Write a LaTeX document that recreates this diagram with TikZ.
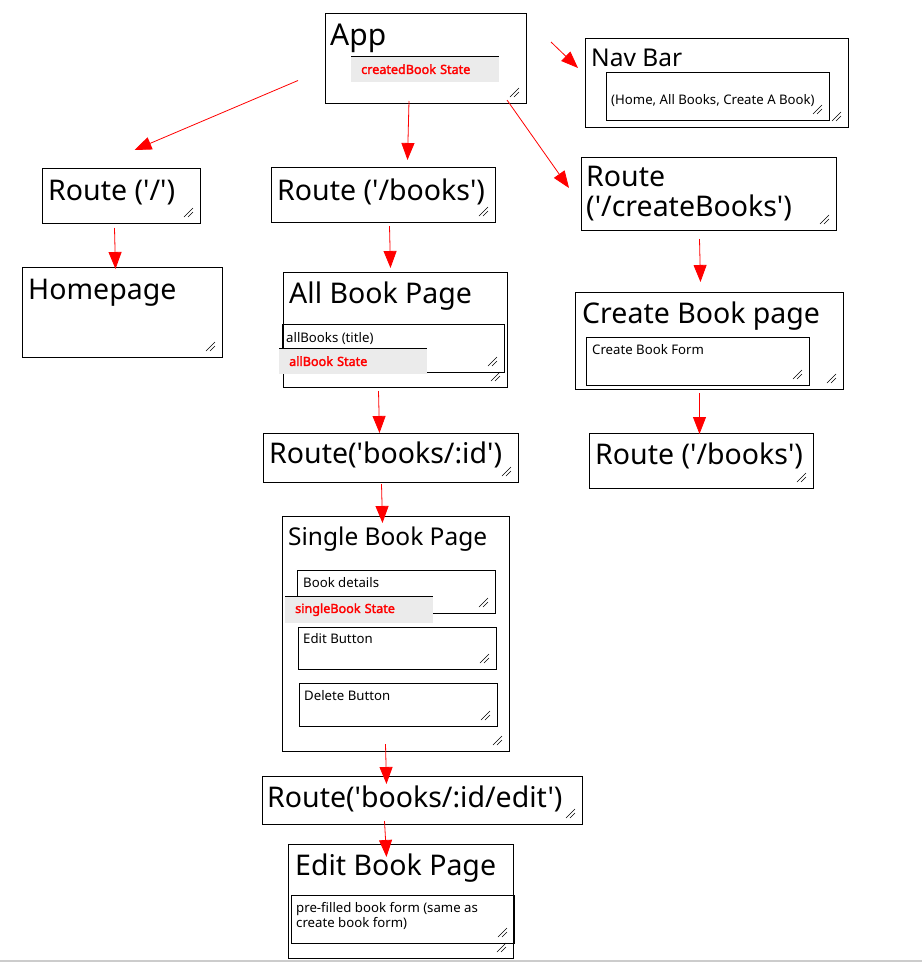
\documentclass[tikz,border=0pt]{standalone}
\usepackage{fontspec}
\setmainfont{Noto Sans}[Ligatures=TeXOff]
\newfontfamily\statefamily{Noto Sans}[FakeBold=2.2]
\usetikzlibrary{arrows.meta, calc, positioning}

\newcommand\pagefont{\fontsize{28.5}{30}\selectfont}
\newcommand\midfont{\fontsize{24.5}{26}\selectfont}
\newcommand\smallfont{\fontsize{13.2}{15}\selectfont}
\newcommand\statefont{\statefamily\fontsize{12.6}{14}\selectfont}

\tikzset{
  box/.style={draw=black, line width=1pt, anchor=north west, inner sep=0pt},
  title/.style={anchor=base west, inner sep=0pt, font=\pagefont, align=left},
  small/.style={anchor=base west, inner sep=0pt, font=\smallfont, align=left},
  state/.style={anchor=north west, fill=black!8, text=red, font=\statefont, text width=128pt, inner xsep=10pt, inner ysep=0pt, minimum height=26pt, align=left},
  flow/.style={red, line width=0.8pt, -{Triangle[length=17pt,width=13pt]}},
  grip/.style={line width=0.6pt}
}

\begin{document}
\begin{tikzpicture}[x=1pt, y=-1pt]
      \useasboundingbox (0,0) rectangle (922,962);

      \node[box, minimum width=201pt, minimum height=90pt] (app) at (325,13) {};
      \node[box, minimum width=263pt, minimum height=89pt] (nav) at (585,38) {};
      \node[box, minimum width=223pt, minimum height=48pt] (nav-in) at (606,72) {};
      \node[box, minimum width=158pt, minimum height=55pt] (home-r) at (42,168) {};
      \node[box, minimum width=224pt, minimum height=55pt] (books-r) at (271,167) {};
      \node[box, minimum width=255pt, minimum height=73pt] (create-r) at (581,157) {};
      \node[box, minimum width=200pt, minimum height=90pt] (home) at (22,267) {};
      \node[box, minimum width=224pt, minimum height=115pt] (all) at (283,272) {};
      \node[box, minimum width=222pt, minimum height=48pt] (all-in) at (282,324) {};
      \node[box, minimum width=268pt, minimum height=97pt] (create) at (575,292) {};
      \node[box, minimum width=223pt, minimum height=48pt] (create-in) at (586,337) {};
      \node[box, minimum width=224pt, minimum height=55pt] (right-r) at (589,433) {};
      \node[box, minimum width=255pt, minimum height=49pt] (id-r) at (263,433) {};
      \node[box, minimum width=227pt, minimum height=235pt] (single) at (282,516) {};
      \node[box, minimum width=198pt, minimum height=43pt] (details) at (297,570) {};
      \node[box, minimum width=198pt, minimum height=42pt] (edit-btn) at (298,627) {};
      \node[box, minimum width=198pt, minimum height=43pt] (delete-btn) at (299,683) {};
      \node[box, minimum width=320pt, minimum height=48pt] (edit-r) at (262,776) {};
      \node[box, minimum width=225pt, minimum height=114pt] (edit) at (288,844) {};
      \node[box, minimum width=223pt, minimum height=48pt] (edit-in) at (291,895) {};

      \foreach \b in {app, nav, nav-in, home-r, books-r, create-r, home, all, all-in, create, create-in, right-r, id-r, single, details, edit-btn, delete-btn, edit-r, edit, edit-in}
        \draw[grip] ($(\b.south east)+(-17,-7)$) -- ++(9,-9) ($(\b.south east)+(-13,-7)$) -- ++(5,-5);

      \node[state] (app-s) at (351,56) {createdBook State};
      \node[state] (all-s) at (279,348) {allBook State};
      \node[state, minimum height=27pt] (single-s) at (285,596) {singleBook State};
      \foreach \s in {app-s, all-s, single-s}
        \draw[line width=1pt] (\s.north west) -- (\s.north east);

      \node[title, font=\fontsize{30}{32}\selectfont] (app-t) at (330,45) {App};
      \node[title, font=\midfont] (nav-t) at (591,66) {Nav Bar};
      \node[title] (home-r-t) at (48,200) {Route ('/')};
      \node[title] (books-r-t) at (277,200) {Route ('/books')};
      \node[title] (create-r-t) at (586,216) {Route\\('/createBooks')};
      \node[title] (home-t) at (28,299) {Homepage};
      \node[title] (all-t) at (289,303) {All Book Page};
      \node[title] (create-t) at (582,323) {Create Book page};
      \node[title] (right-r-t) at (595,464) {Route ('/books')};
      \node[title] (id-r-t) at (269,463) {Route('books/:id')};
      \node[title, font=\midfont] (single-t) at (288,545) {Single Book Page};
      \node[title] (edit-r-t) at (267,807) {Route('books/:id/edit')};
      \node[title] (edit-t) at (295,875) {Edit Book Page};

      \node[small] (nav-in-t) at (611,104) {(Home, All Books, Create A Book)};
      \node[small] (all-in-t) at (286,342) {allBooks (title)};
      \node[small] (create-in-t) at (592,354) {Create Book Form};
      \node[small] (details-t) at (303,587) {Book details};
      \node[small] (edit-btn-t) at (303,643) {Edit Button};
      \node[small] (delete-btn-t) at (304,700) {Delete Button};
      \node[small] (edit-in-t) at (296,927) {pre-filled book form (same as\\create book form)};

      \draw[flow] ($(app.west)+(-27,22)$) -- ($(home-r.north)+(13,-18)$);
      \draw[flow] ($(app.south)+(-17,-3)$) -- ($(books-r.north)+(24,-7)$);
      \draw[flow] ($(app.south east)+(-20,-4)$) -- ($(create-r.west)+(-12,-6)$);
      \draw[flow] ($(app.north east)+(24,29)$) -- ($(nav.west)+(-7,-15)$);
      \draw[flow] ($(home-r.south)+(-7,4)$) -- ($(home.north)+(-7,2)$);
      \draw[flow] ($(books-r.south)+(6,3)$) -- ($(all.north)+(-5,-4)$);
      \draw[flow] ($(all.south)+(-17,3)$) -- ($(id-r.north)+(-11.5,0)$);
      \draw[flow] ($(id-r.south)+(-9.5,1)$) -- ($(single.north)+(-13.5,7)$);
      \draw[flow] ($(single.south)+(-10.5,-8)$) -- ($(edit-r.north)+(-36,8)$);
      \draw[flow] ($(edit-r.south)+(-38,-4)$) -- ($(edit.north)+(-14.5,13)$);
      \draw[flow] ($(create-r.south)+(-9.5,8)$) -- ($(create.north)+(-9,-10)$);
      \draw[flow] ($(create.south)+(-10,3)$) -- ($(right-r.north)+(-2,1)$);

      \draw[black!20, line width=2pt] (0,961) -- (922,961);
    \end{tikzpicture}
\end{document}
